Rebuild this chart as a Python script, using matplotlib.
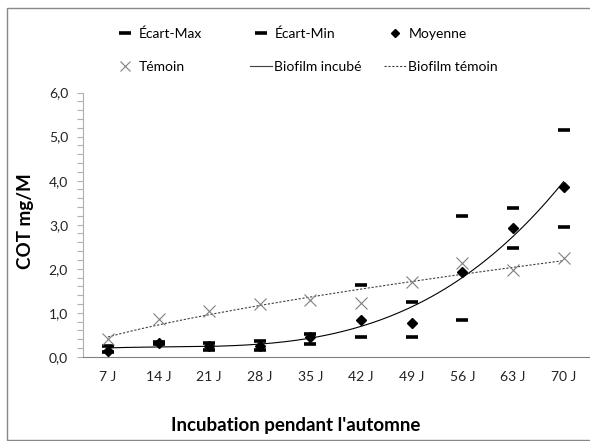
import numpy as np
import matplotlib.pyplot as plt
from matplotlib.lines import Line2D
from matplotlib.patches import Rectangle

plt.rcParams['font.family'] = ['Lato', 'DejaVu Sans']

jours = ["7 J", "14 J", "21 J", "28 J", "35 J", "42 J", "49 J", "56 J", "63 J", "70 J"]
ecart_max = [0.24, 0.34, 0.31, 0.35, 0.52, 1.64, 1.24, 3.20, 3.39, 5.15]
ecart_min = [0.10, 0.28, 0.16, 0.15, 0.28, 0.44, 0.45, 0.83, 2.48, 2.95]
moyenne = [0.14, 0.32, 0.24, 0.24, 0.44, 0.83, 0.77, 1.93, 2.93, 3.86]
temoin = [0.40, 0.86, 1.04, 1.20, 1.29, 1.21, 1.70, 2.14, 1.96, 2.25]

x = np.arange(1, len(jours) + 1)

fig = plt.figure(figsize=(5.9, 4.41), dpi=100)
ax = fig.add_axes([0.140, 0.191, 0.858, 0.599])

# courbes de tendance (polynomiale d'ordre 3 et puissance)
xx = np.linspace(1, len(jours), 200)
coef = np.polyfit(x, moyenne, 3)
ax.plot(xx, np.polyval(coef, xx), color='black', lw=0.8, zorder=2)
b, lna = np.polyfit(np.log(x), np.log(temoin), 1)
ax.plot(xx, np.exp(lna) * xx ** b, color='#404040', lw=0.8,
        linestyle=(0, (2, 1.5)), zorder=2)

# barres d'erreur des premières semaines
ax.vlines(x[:5], ecart_min[:5], ecart_max[:5], color='black', lw=1.2, zorder=3)

ax.plot(x, ecart_max, linestyle='none', marker='_', ms=8, mew=2.6, color='black', zorder=4)
ax.plot(x, ecart_min, linestyle='none', marker='_', ms=8, mew=2.6, color='black', zorder=4)
ax.plot(x, moyenne, linestyle='none', marker='D', ms=5.5, color='black', zorder=5)
ax.plot(x, temoin, linestyle='none', marker='x', ms=8, mew=0.8, color='#808080', zorder=4)

ax.set_xlim(0.5, len(jours) + 0.5)
ax.set_ylim(0, 6)
ax.set_xticks(x)
ax.set_xticklabels(jours)
ax.set_yticks(np.arange(0, 6.01, 1))
ax.set_yticklabels([f"{v:.1f}".replace('.', ',') for v in np.arange(0, 6.01, 1)])
ax.set_yticks(np.arange(0, 6.01, 0.2), minor=True)
ax.tick_params(axis='x', length=0, pad=10, labelsize=10, colors='#222222')
ax.tick_params(axis='y', which='both', length=4.5, width=0.8, color='#b0b0b0',
               pad=6, labelsize=10, labelcolor='#222222')

for s in ['top', 'right']:
    ax.spines[s].set_visible(False)
ax.spines['left'].set_color('#b0b0b0')
ax.spines['bottom'].set_color('#808080')

fig.text(25 / 590, 1 - 221 / 441, "COT mg/M", fontsize=13.5, fontweight='bold',
         rotation=90, ha='center', va='center')
fig.text(296 / 590, 1 - 426 / 441, "Incubation pendant l'automne", fontsize=13.5,
         fontweight='bold', ha='center', va='center')

# légende en trois colonnes
h_max = Line2D([], [], linestyle='none', marker='_', ms=8, mew=2.6, color='black')
h_min = Line2D([], [], linestyle='none', marker='_', ms=8, mew=2.6, color='black')
h_moy = Line2D([], [], linestyle='none', marker='D', ms=4.5, color='black')
h_tem = Line2D([], [], linestyle='none', marker='x', ms=7, mew=0.8, color='#808080')
h_inc = Line2D([], [], color='#404040', lw=0.8)
h_bt = Line2D([], [], color='#404040', lw=0.8, linestyle=(0, (2, 1.5)))

colonnes = [([h_max, h_tem], ["Écart-Max", "Témoin"], 114),
            ([h_min, h_inc], ["Écart-Min", "Biofilm incubé"], 250),
            ([h_moy, h_bt], ["Moyenne", "Biofilm témoin"], 384)]
for handles, labels, x0 in colonnes:
    fig.legend(handles, labels, loc='upper left',
               bbox_to_anchor=(x0 / 590, 1 - 27.5 / 441), frameon=False,
               fontsize=10, handlelength=1.6, handletextpad=0.15,
               borderpad=0, borderaxespad=0, labelspacing=1.52)

fig.patches.append(Rectangle((7 / 590, 1 - 440 / 441), 1.0, 432 / 441,
                             transform=fig.transFigure, fill=False,
                             edgecolor='#888888', lw=1.0))

fig.savefig("out.png", dpi=100)
